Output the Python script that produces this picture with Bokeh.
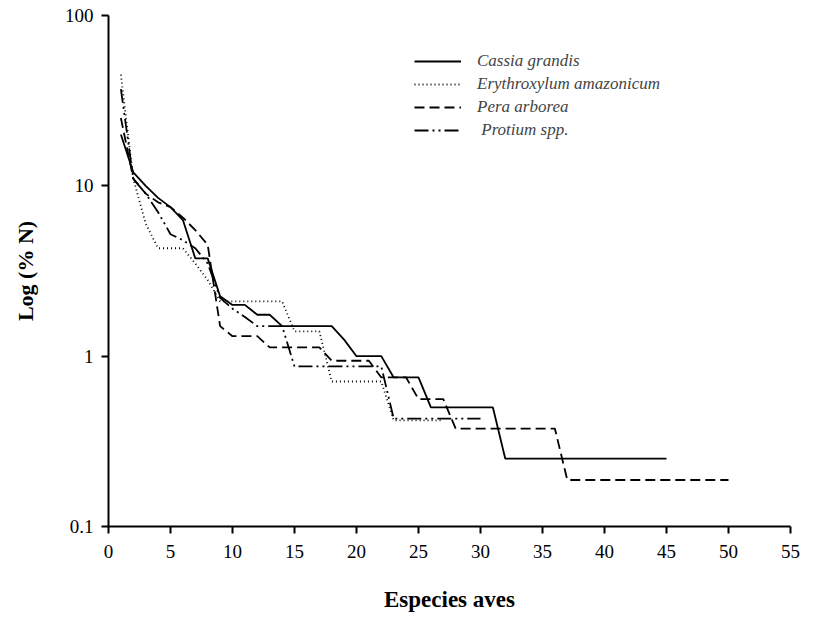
from bokeh.plotting import figure
from bokeh.models import Legend, LegendItem, FixedTicker, CustomJSTickFormatter, Range1d
from bokeh.embed import file_html
from bokeh.resources import INLINE

# Data (rank of bird species vs % of individuals)
cassia = [20, 12, 10, 8.5, 7.5, 6.3, 3.75, 3.75, 2.25, 2.0, 2.0, 1.75, 1.75, 1.5, 1.5, 1.5, 1.5, 1.5,
          1.25, 1.0, 1.0, 1.0, 0.75, 0.75, 0.75, 0.5, 0.5, 0.5, 0.5, 0.5, 0.5] + [0.25] * 14
erythro = [45, 11, 6, 4.3, 4.3, 4.3, 3.5, 2.8, 2.1, 2.1, 2.1, 2.1, 2.1, 2.1, 1.4, 1.4, 1.4,
           0.71, 0.71, 0.71, 0.71, 0.71, 0.42, 0.42, 0.42, 0.42, 0.42]
pera = [25, 11, 9, 8, 7.5, 6.5, 5.5, 4.5, 1.5, 1.31, 1.31, 1.31, 1.125, 1.125, 1.125, 1.125, 1.125,
        0.94, 0.94, 0.94, 0.94, 0.75, 0.75, 0.75, 0.56, 0.56, 0.56] + [0.375] * 9 + [0.1875] * 14
protium = [37, 11, 9, 7, 5.2, 4.8, 4.3, 3.5, 2.2, 1.9, 1.7, 1.5, 1.5, 1.5] + [0.87] * 8 + [0.43] * 8

series_names = ["Cassia grandis", "Erythroxylum amazonicum", "Pera arborea", " Protium spp."]
x_ticks = list(range(0, 56, 5))
y_ticks = [0.1, 1, 10, 100]

FONT = "Liberation Serif"

p = figure(width=830, height=623, output_backend="svg", toolbar_location=None,
           y_axis_type="log", x_range=Range1d(0, 55), y_range=Range1d(0.1, 100),
           min_border_left=108, min_border_right=40, min_border_top=15, min_border_bottom=97)
p.outline_line_color = None
p.xgrid.grid_line_color = None
p.ygrid.grid_line_color = None

def ranks(vals):
    return list(range(1, len(vals) + 1))

lw = 1.8
r1 = p.line(ranks(cassia), cassia, line_color="black", line_width=lw)
r2 = p.line(ranks(erythro), erythro, line_color="black", line_width=lw, line_dash="1 3")
r3 = p.line(ranks(pera), pera, line_color="black", line_width=lw, line_dash="10 5")
r4 = p.line(ranks(protium), protium, line_color="black", line_width=lw, line_dash="14 4 2 4 2 4")

legend = Legend(items=[LegendItem(label=series_names[0], renderers=[r1]),
                       LegendItem(label=series_names[1], renderers=[r2]),
                       LegendItem(label=series_names[2], renderers=[r3]),
                       LegendItem(label=series_names[3], renderers=[r4])],
                location=(306, 386))
legend.border_line_color = None
legend.background_fill_alpha = 0
legend.padding = 0
legend.margin = 0
legend.spacing = 3
legend.glyph_width = 47
legend.glyph_height = 20
legend.label_height = 20
legend.label_standoff = 16
legend.label_text_font = FONT
legend.label_text_font_style = "italic"
legend.label_text_font_size = "17px"
p.add_layout(legend)

for ax in (p.xaxis[0], p.yaxis[0]):
    ax.axis_line_color = "black"
    ax.axis_line_width = 2
    ax.major_tick_line_color = "black"
    ax.major_tick_line_width = 2
    ax.major_tick_out = 7
    ax.major_tick_in = 0
    ax.minor_tick_line_color = None
    ax.major_label_text_font = FONT
    ax.major_label_text_font_size = "19px"
    ax.major_label_text_color = "black"
    ax.axis_label_text_font = FONT
    ax.axis_label_text_font_style = "bold"
    ax.axis_label_text_color = "black"

p.xaxis[0].ticker = FixedTicker(ticks=x_ticks)
p.xaxis[0].axis_label = "Especies aves"
p.xaxis[0].axis_label_text_font_size = "23px"
p.xaxis[0].major_label_standoff = 11
p.xaxis[0].axis_label_standoff = 26

p.yaxis[0].ticker = FixedTicker(ticks=y_ticks)
p.yaxis[0].formatter = CustomJSTickFormatter(code="return String(tick);")
p.yaxis[0].axis_label = "Log (% N)"
p.yaxis[0].axis_label_text_font_size = "22px"
p.yaxis[0].major_label_standoff = 8
p.yaxis[0].axis_label_standoff = 24

open("out.html", "w").write(file_html(p, INLINE))
